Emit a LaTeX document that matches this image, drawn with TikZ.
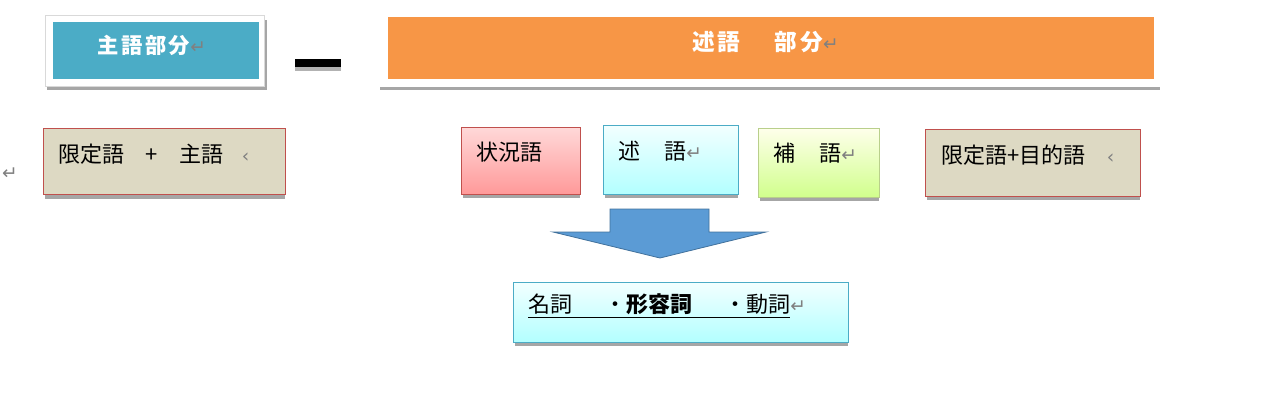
\documentclass[tikz,border=0pt]{standalone}
\usepackage{fontspec}
\newfontfamily\cjk{Noto Sans CJK JP}
\newfontfamily\cjksp{Noto Sans CJK JP}[LetterSpace=12]
\newfontfamily\djvfont{DejaVu Sans}
\definecolor{teal1}{HTML}{4BACC6}
\definecolor{orng}{HTML}{F79646}
\definecolor{tan1}{HTML}{DDD9C3}
\definecolor{redb}{HTML}{C0504D}
\definecolor{grnb}{HTML}{9BBB59}
\definecolor{arrb}{HTML}{5B9BD5}
\definecolor{arrd}{HTML}{41719C}
\newcommand{\pmark}{{\djvfont\mdseries\color{gray}\fontsize{14}{14}\selectfont ↵}}
\newcommand{\lmark}{{\djvfont\color{gray}\fontsize{14}{14}\selectfont ‹}}
\tikzset{
  shad/.style={fill=gray!70},
  txt/.style={font=\cjk\fontsize{16.5}{16.5}\selectfont, anchor=west, inner sep=0},
}
\begin{document}
\begin{tikzpicture}[x=0.75pt,y=-0.75pt]
\useasboundingbox (0,0) rectangle (1280,401);
% subject header
\fill[shad] (47,20) rectangle (267,90);
\fill[white,draw=gray!30] (45,15) rectangle (264,86);
\node[fill=teal1,minimum width=206*0.75pt,minimum height=57*0.75pt,anchor=north west,inner sep=0] (subj) at (53,22) {};
\node[inner sep=0,anchor=west,font=\cjksp\bfseries\fontsize{16}{16}\selectfont,text=white] (subjt) at (97,45) {主語部分\pmark};
% dash
\fill[gray!60] (295,64) rectangle (341,71);
\fill[black] (295,59) rectangle (341,67);
% predicate header
\fill[gray!70] (380,87) rectangle (1160,90);
\node[fill=orng,minimum width=766*0.75pt,minimum height=62*0.75pt,anchor=north west,inner sep=0] (pred) at (388,17) {};
\node[inner sep=0,anchor=west,font=\cjksp\bfseries\fontsize{17}{17}\selectfont,text=white] (predt) at (692,42) {述語\hspace{26pt}部分\pmark};
% left mark
\node[inner sep=0] (pm0) at (10,174) {\pmark};
% boxes row
\fill[shad] (45,194) rectangle (285,199);
\node[draw=redb,fill=tan1,minimum width=242*0.75pt,minimum height=66*0.75pt,anchor=north west,inner sep=0] (b1) at (43,128) {};
\node[txt] (b1t) at (58,154) {限定語\hspace{16pt}+\hspace{16pt}主語\hspace{14pt}\lmark};

\fill[shad] (463,194) rectangle (580,198);
\node[draw=redb,top color=red!15,bottom color=red!40,minimum width=119*0.75pt,minimum height=67*0.75pt,anchor=north west,inner sep=0] (b2) at (461,127) {};
\node[txt] (b2t) at (476,152) {状況語};

\fill[shad] (605,194) rectangle (738,198);
\node[draw=teal1,top color=cyan!5,bottom color=cyan!30,minimum width=135*0.75pt,minimum height=69*0.75pt,anchor=north west,inner sep=0] (b3) at (603,125) {};
\node[txt] (b3t) at (618,151) {述\hspace{18pt}語\pmark};

\fill[shad] (760,197) rectangle (879,201);
\node[draw=grnb!70,top color=green!5!yellow!8,bottom color=green!40!yellow!45,minimum width=121*0.75pt,minimum height=69*0.75pt,anchor=north west,inner sep=0] (b4) at (758,128) {};
\node[txt] (b4t) at (773,153) {補\hspace{18pt}語\pmark};

\fill[shad] (927,196) rectangle (1140,200);
\node[draw=redb,fill=tan1,minimum width=215*0.75pt,minimum height=67*0.75pt,anchor=north west,inner sep=0] (b5) at (925,129) {};
\node[txt] (b5t) at (941,155) {限定語+目的語\hspace{16pt}\lmark};
% arrow
\draw[draw=arrd,fill=arrb,line width=0.6pt] (610,209) -- (709,209) -- (709,232) -- (766,232) -- (660,258) -- (553,232) -- (610,232) -- cycle;
% bottom box
\fill[shad] (515,342) rectangle (848,346);
\node[draw=teal1,top color=cyan!5,bottom color=cyan!30,minimum width=335*0.75pt,minimum height=60*0.75pt,anchor=north west,inner sep=0] (b6) at (513,282) {};
\node[txt] (b6t) at (528,306) {\underline{名詞\hspace{24pt}・{\bfseries 形容詞}\hspace{24pt}・動詞}\pmark};
\end{tikzpicture}
\end{document}
